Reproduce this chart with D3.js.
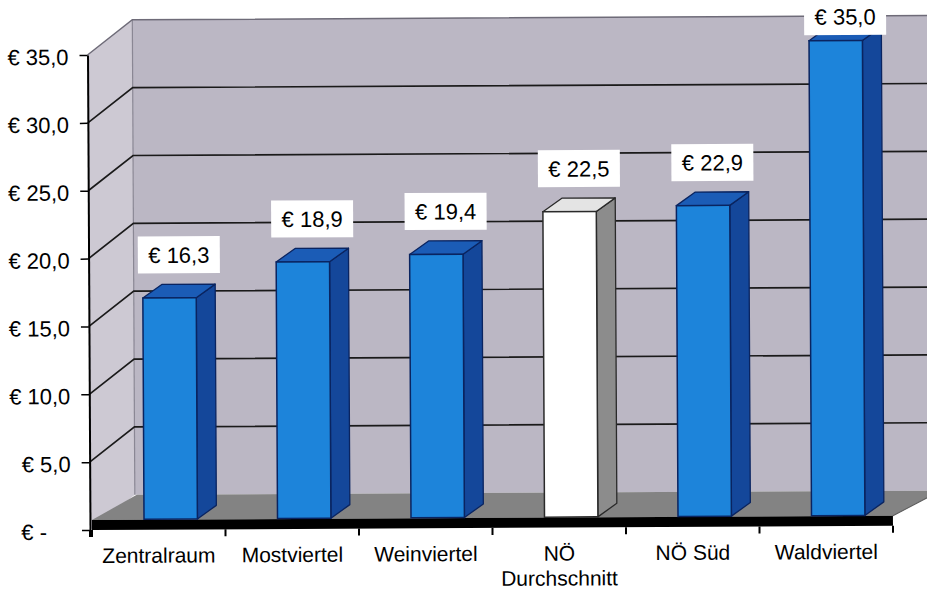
<!DOCTYPE html>
<html>
<head>
<meta charset="utf-8">
<script src="https://cdn.jsdelivr.net/npm/d3@7"></script>
<style>
  html, body { margin: 0; padding: 0; background: #ffffff; }
  svg { display: block; }
  text { font-family: "Liberation Sans", Arial, sans-serif; fill: #000; }
</style>
</head>
<body>
<svg id="chart" width="927" height="592"></svg>
<script>
// Regional averages (€), one bar per region
const categories = ["Zentralraum", "Mostviertel", "Weinviertel", "NÖ\nDurchschnitt", "NÖ Süd", "Waldviertel"];
const values = [16.3, 18.9, 19.4, 22.5, 22.9, 35.0];
const highlighted = ["NÖ\nDurchschnitt"];
const yTicks = [0, 5, 10, 15, 20, 25, 30, 35];

const svg = d3.select("#chart");

// 3D geometry of the plot box
const wallDepth = { dx: 45, dy: -35 };   // front axis -> back wall
const barShift  = { dx: 0,  dy: -10.5 }; // bars stand slightly behind the front edge
const barDepth  = { dx: 19, dy: -13.5 }; // thickness of each column

const y = d3.scaleLinear().domain([0, 35]).range([530, 55]);
const x = d3.scaleBand().domain(categories).range([92, 893]);

const g = svg.append("g").attr("transform", "rotate(-0.3, 92, 530)");

const fmt = v => v === 0 ? "€ -" : "€ " + d3.format(".1f")(v).replace(".", ",");
const pts = a => a.map(p => p.join(",")).join(" ");

const x0 = 90, xBack = x0 + wallDepth.dx, xRight = 945;
const yTop = y(35), yBase = y(0);

// back wall
g.append("polygon")
  .attr("points", pts([[xBack, yTop + wallDepth.dy], [xRight, yTop + wallDepth.dy],
                       [xRight, yBase + wallDepth.dy], [xBack, yBase + wallDepth.dy]]))
  .attr("fill", "#bbb7c4");

// side wall
g.append("polygon")
  .attr("points", pts([[x0, yTop], [xBack, yTop + wallDepth.dy],
                       [xBack, yBase + wallDepth.dy], [x0, yBase]]))
  .attr("fill", "#cdc9d3");

// wall edges
g.append("line")
  .attr("x1", xBack).attr("x2", xBack)
  .attr("y1", yTop + wallDepth.dy).attr("y2", yBase + wallDepth.dy)
  .attr("stroke", "#8a8794").attr("stroke-width", 1.2);
g.append("polyline")
  .attr("points", pts([[x0, yTop], [xBack, yTop + wallDepth.dy], [xRight, yTop + wallDepth.dy]]))
  .attr("fill", "none").attr("stroke", "#6e6b78").attr("stroke-width", 1.5);

// gridlines on side wall and back wall
const gridVals = yTicks.filter(v => v > 0 && v < 35);
g.selectAll(".grid")
  .data(gridVals)
  .join("polyline")
  .attr("class", "grid")
  .attr("points", v => pts([[x0, y(v)], [xBack, y(v) + wallDepth.dy], [xRight, y(v) + wallDepth.dy]]))
  .attr("fill", "none")
  .attr("stroke", "#1a1a1a")
  .attr("stroke-width", 1.7);

// floor
const floorFront = 520, floorBack = yBase + wallDepth.dy;
const xEnd = x.range()[1];
g.append("polygon")
  .attr("points", pts([[x.range()[0], floorFront], [xEnd, floorFront],
                       [xEnd + wallDepth.dx + 3, floorBack], [xBack + 2, floorBack]]))
  .attr("fill", "#838383");
g.append("line")
  .attr("x1", xEnd).attr("y1", floorFront)
  .attr("x2", xEnd + wallDepth.dx + 3).attr("y2", floorBack)
  .attr("stroke", "#5a5a5a").attr("stroke-width", 1);

// floor slab front edge
g.append("rect")
  .attr("x", x.range()[0]).attr("y", floorFront)
  .attr("width", xEnd - x.range()[0]).attr("height", yBase - floorFront)
  .attr("fill", "#000");

// columns
const bw = x.bandwidth();
const bars = categories.map((c, i) => {
  const left = x(c) + bw * 0.39 + barShift.dx;
  const w = bw * 0.4;
  const top = y(values[i]) + barShift.dy;
  const bottom = y(0) + barShift.dy;
  return { c, v: values[i], left, w, top, bottom, hi: highlighted.includes(c) };
});

const colors = hi => hi
  ? { front: "#ffffff", side: "#8c8c8c", top: "#e4e4e4", stroke: "#2a2a2a" }
  : { front: "#1d84da", side: "#14479a", top: "#1b5cb6", stroke: "#0a2460" };

const barG = g.selectAll(".bar").data(bars).join("g").attr("class", "bar");

barG.append("polygon") // side face
  .attr("points", d => pts([[d.left + d.w, d.top], [d.left + d.w + barDepth.dx, d.top + barDepth.dy],
                            [d.left + d.w + barDepth.dx, d.bottom + barDepth.dy], [d.left + d.w, d.bottom]]))
  .attr("fill", d => colors(d.hi).side)
  .attr("stroke", d => colors(d.hi).stroke).attr("stroke-width", 1.3).attr("stroke-linejoin", "round");

barG.append("polygon") // top face
  .attr("points", d => pts([[d.left, d.top], [d.left + barDepth.dx, d.top + barDepth.dy],
                            [d.left + d.w + barDepth.dx, d.top + barDepth.dy], [d.left + d.w, d.top]]))
  .attr("fill", d => colors(d.hi).top)
  .attr("stroke", d => colors(d.hi).stroke).attr("stroke-width", 1.3).attr("stroke-linejoin", "round");

barG.append("rect") // front face
  .attr("x", d => d.left).attr("y", d => d.top)
  .attr("width", d => d.w).attr("height", d => d.bottom - d.top)
  .attr("fill", d => colors(d.hi).front)
  .attr("stroke", d => colors(d.hi).stroke).attr("stroke-width", 1.5);

// value labels in white boxes above the columns
const boxW = 82, boxH = 37;
const labG = g.selectAll(".vlabel").data(bars).join("g").attr("class", "vlabel")
  .attr("transform", d => {
    const cx = d.left + d.w / 2 + barDepth.dx / 2;
    const topY = Math.max(2, d.top + barDepth.dy - 11 - boxH);
    return `translate(${cx},${topY})`;
  });
labG.append("rect")
  .attr("x", -boxW / 2).attr("y", 0)
  .attr("width", boxW).attr("height", boxH)
  .attr("fill", "#ffffff");
labG.append("text")
  .attr("x", 0).attr("y", boxH / 2 + 8)
  .attr("text-anchor", "middle")
  .attr("font-size", 22)
  .text(d => fmt(d.v));

// value axis
const yAxis = d3.axisLeft(y).tickValues(yTicks).tickSize(8).tickSizeOuter(0).tickPadding(11).tickFormat(fmt);
const ya = g.append("g").attr("transform", `translate(${x0},0)`).call(yAxis);
ya.select(".domain").attr("stroke", "#000").attr("stroke-width", 2);
ya.selectAll(".tick line").attr("stroke", "#000").attr("stroke-width", 1.5);
ya.selectAll(".tick text")
  .attr("font-size", 22)
  .attr("font-family", "Liberation Sans, Arial, sans-serif")
  .attr("fill", "#000")
  .attr("dy", "0.42em")
  .attr("dx", d => d === 0 ? -24 : 0);
g.append("line")
  .attr("x1", x0).attr("x2", x0).attr("y1", yBase).attr("y2", yBase + 7)
  .attr("stroke", "#000").attr("stroke-width", 2);

// category axis: boundary ticks and labels
const bounds = categories.map(c => x(c)).concat([xEnd]);
g.selectAll(".ctick").data(bounds).join("line")
  .attr("class", "ctick")
  .attr("x1", d => d).attr("x2", d => d)
  .attr("y1", yBase).attr("y2", yBase + 7)
  .attr("stroke", "#000").attr("stroke-width", 2);

const xAxis = d3.axisBottom(x).tickSize(0).tickPadding(0);
const xa = g.append("g").attr("transform", `translate(0,${yBase})`).call(xAxis);
xa.select(".domain").remove();
xa.selectAll(".tick text").each(function(d) {
  const t = d3.select(this);
  t.text(null)
    .attr("font-size", 21)
    .attr("font-family", "Liberation Sans, Arial, sans-serif")
    .attr("fill", "#000")
    .attr("y", 0).attr("dy", null);
  d.split("\n").forEach((line, i) => {
    t.append("tspan").attr("x", 0).attr("y", 33 + i * 25).text(line);
  });
});
</script>
</body>
</html>
